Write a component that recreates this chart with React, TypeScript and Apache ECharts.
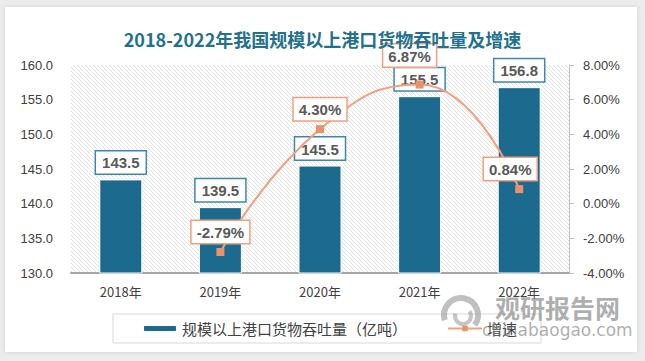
import React, { useEffect, useRef } from 'react';
import * as echarts from 'echarts';

const titleText = '2018-2022年我国规模以上港口货物吞吐量及增速';
const years = ['2018年', '2019年', '2020年', '2021年', '2022年'];
const throughput = [143.5, 139.5, 145.5, 155.5, 156.8];
const growthRate: (number | null)[] = [null, -2.79, 4.3, 6.87, 0.84];
const seriesNames = ['规模以上港口货物吞吐量（亿吨）', '增速'];
const leftAxis = { min: 130, max: 160, interval: 5 };
const rightAxis = { min: -4, max: 8, interval: 2 };

function makeHatch() {
  const c = document.createElement('canvas');
  c.width = 8;
  c.height = 8;
  const ctx = c.getContext('2d')!;
  ctx.fillStyle = '#ffffff';
  ctx.fillRect(0, 0, 8, 8);
  ctx.strokeStyle = '#e2e2e2';
  ctx.lineWidth = 1;
  for (let k = -3; k <= 3; k++) {
    ctx.beginPath();
    ctx.moveTo(k * 4, 0);
    ctx.lineTo(k * 4 + 8, 8);
    ctx.stroke();
  }
  return c;
}

export default function App() {
  const ref = useRef<HTMLDivElement>(null);
  useEffect(() => {
    if (!ref.current) return;
    const chart = echarts.init(ref.current, null, { renderer: 'svg' });
    const hatch = makeHatch();
    const lineLabelOffsets: Record<number, number[]> = { 3: [-10, -9], 4: [-9, 0] };
    const growthData = growthRate.map((v, i) =>
      v === null
        ? null
        : {
            value: v,
            label: lineLabelOffsets[i] ? { offset: lineLabelOffsets[i] } : undefined,
          }
    );
    chart.setOption({
      animation: false,
      backgroundColor: '#ececec',
      title: {
        text: titleText,
        left: 'center',
        top: 25,
        textStyle: {
          fontSize: 18,
          fontWeight: 'bold',
          color: '#23708f',
          fontFamily: '"Noto Sans CJK SC", sans-serif',
        },
      },
      graphic: [
        {
          type: 'rect',
          z: -10,
          shape: { x: 5, y: 7, width: 632, height: 345 },
          style: { fill: '#ffffff', shadowColor: 'rgba(0,0,0,0.12)', shadowBlur: 4 },
        },
        {
          type: 'arc',
          z: 50,
          shape: { cx: 461, cy: 315, r: 17, startAngle: Math.PI * 0.9, endAngle: Math.PI * 2.2 },
          style: { stroke: 'rgba(140,140,140,0.55)', lineWidth: 6, fill: 'none' },
        },
        {
          type: 'arc',
          z: 50,
          shape: { cx: 463, cy: 316, r: 8, startAngle: Math.PI * 1.8, endAngle: Math.PI * 3.1 },
          style: { stroke: 'rgba(150,150,150,0.55)', lineWidth: 4, fill: 'none' },
        },
        {
          type: 'text',
          z: 50,
          left: 495,
          top: 294,
          style: {
            text: '观研报告网',
            fontSize: 25,
            fontWeight: 'bold',
            fill: 'rgba(120,120,120,0.6)',
            fontFamily: '"Noto Sans CJK SC", sans-serif',
          },
        },
        {
          type: 'text',
          z: 50,
          left: 482,
          top: 321,
          style: {
            text: 'chinabaogao.com',
            fontSize: 17,
            fill: 'rgba(120,120,120,0.6)',
            fontFamily: '"DejaVu Sans", sans-serif',
          },
        },
      ],
      legend: {
        left: 113,
        top: 314,
        data: seriesNames,
        backgroundColor: '#ffffff',
        borderColor: '#d9d9d9',
        borderWidth: 1,
        padding: [7, 24, 7, 29],
        itemGap: 40,
        itemWidth: 34,
        itemHeight: 7,
        textStyle: { fontSize: 15, color: '#404040', fontFamily: '"Noto Sans CJK SC", sans-serif' },
      },
      grid: {
        left: 71,
        right: 76,
        top: 65,
        bottom: 88,
        show: true,
        borderWidth: 0,
        backgroundColor: { image: hatch, repeat: 'repeat', imageWidth: 8, imageHeight: 8 },
      },
      xAxis: {
        type: 'category',
        data: years,
        axisTick: { show: false },
        axisLine: { onZero: false, lineStyle: { color: '#a6a6a6', width: 2 } },
        axisLabel: { fontSize: 13, color: '#404040', margin: 12, fontFamily: '"Noto Sans CJK SC", sans-serif' },
      },
      yAxis: [
        {
          type: 'value',
          min: leftAxis.min,
          max: leftAxis.max,
          interval: leftAxis.interval,
          splitLine: { show: false },
          axisLine: { show: false },
          axisTick: { show: false },
          axisLabel: {
            fontSize: 13,
            color: '#404040',
            margin: 18,
            formatter: (v: number) => v.toFixed(1),
            fontFamily: '"Liberation Sans", sans-serif',
          },
        },
        {
          type: 'value',
          min: rightAxis.min,
          max: rightAxis.max,
          interval: rightAxis.interval,
          splitLine: { show: false },
          axisLine: { show: true, onZero: false, lineStyle: { color: '#bfbfbf' } },
          axisTick: { show: true, length: 5, lineStyle: { color: '#bfbfbf' } },
          axisLabel: {
            fontSize: 13,
            color: '#404040',
            margin: 14,
            formatter: (v: number) => v.toFixed(2) + '%',
            fontFamily: '"Liberation Sans", sans-serif',
          },
        },
      ],
      series: [
        {
          name: seriesNames[0],
          type: 'bar',
          data: throughput,
          barWidth: 43,
          itemStyle: { color: '#1c6a8d', borderColor: '#ffffff', borderWidth: 1 },
          label: {
            show: true,
            position: 'top',
            distance: 6,
            formatter: (p: any) => Number(p.value).toFixed(1),
            backgroundColor: '#ffffff',
            borderColor: '#3f87ad',
            borderWidth: 1.5,
            padding: [4, 6, 3, 6],
            fontSize: 15,
            fontWeight: 'bold',
            color: '#595959',
            fontFamily: '"Liberation Sans", sans-serif',
          },
          z: 2,
        },
        {
          name: seriesNames[1],
          type: 'line',
          yAxisIndex: 1,
          data: growthData,
          smooth: 0.5,
          connectNulls: false,
          symbol: 'rect',
          symbolSize: 8,
          lineStyle: { color: '#f0a07e', width: 2 },
          itemStyle: { color: '#e9936d' },
          label: {
            show: true,
            position: 'top',
            distance: 5,
            formatter: (p: any) => Number(p.value).toFixed(2) + '%',
            backgroundColor: '#ffffff',
            borderColor: '#f0a07e',
            borderWidth: 1.5,
            padding: [4, 5, 3, 5],
            fontSize: 15,
            fontWeight: 'bold',
            color: '#595959',
            fontFamily: '"Liberation Sans", sans-serif',
          },
          z: 3,
        },
      ],
    });
    return () => chart.dispose();
  }, []);
  return (
    <div
      ref={ref}
      style={{ position: 'fixed', left: 0, top: 0, width: 645, height: 361 }}
    />
  );
}
